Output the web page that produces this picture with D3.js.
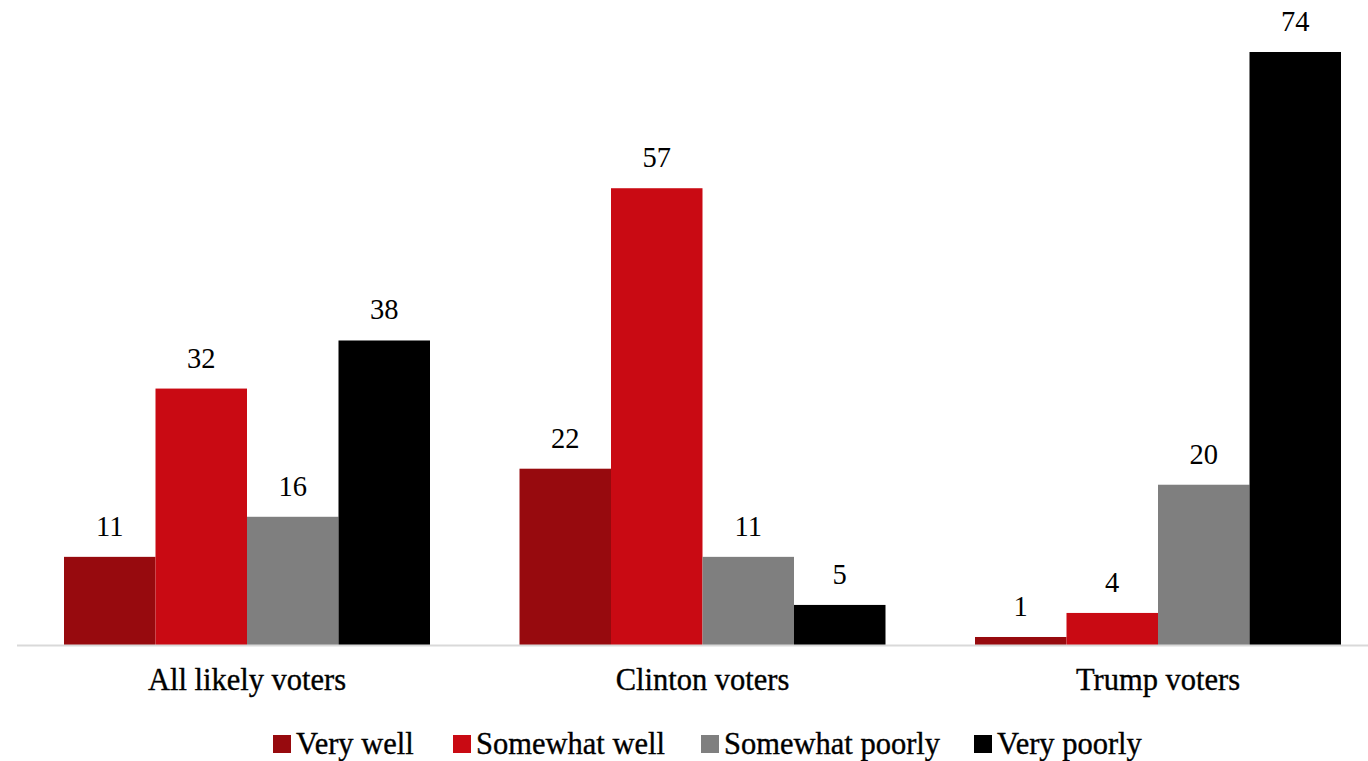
<!DOCTYPE html>
<html><head><meta charset="utf-8">
<script src="https://cdn.jsdelivr.net/npm/d3@7"></script>
<style>html,body{margin:0;padding:0;background:#fff;}svg{display:block;}</style>
</head><body>
<svg id="chart" width="1368" height="761"></svg>
<script>
const categories = ["All likely voters", "Clinton voters", "Trump voters"];
const seriesNames = ["Very well", "Somewhat well", "Somewhat poorly", "Very poorly"];
const veryWell = [11, 22, 1];
const somewhatWell = [32, 57, 4];
const somewhatPoorly = [16, 11, 20];
const veryPoorly = [38, 5, 74];
const colors = ["#970a0e", "#c90a13", "#7f7f7f", "#000000"];

const seriesValues = [veryWell, somewhatWell, somewhatPoorly, veryPoorly];
const data = categories.map((c, i) => ({cat: c, vals: seriesNames.map((s, j) => ({s, v: seriesValues[j][i], j}))}));

const svg = d3.select("#chart");
const font = "'Liberation Serif', 'Times New Roman', serif";

const x0 = d3.scaleBand().domain(categories).range([19.25, 1385.75]).paddingInner(0.1965).paddingOuter(0.09825);
const x1 = d3.scaleBand().domain(seriesNames).range([0, x0.bandwidth()]).padding(0);
const y = d3.scaleLinear().domain([0, 74]).range([645, 52]);

const g = svg.append("g");
const groups = g.selectAll("g.grp").data(data).enter().append("g")
  .attr("transform", d => `translate(${x0(d.cat)},0)`);

groups.selectAll("rect").data(d => d.vals).enter().append("rect")
  .attr("x", d => x1(d.s))
  .attr("y", d => y(d.v))
  .attr("width", x1.bandwidth())
  .attr("height", d => y(0) - y(d.v))
  .attr("fill", d => colors[d.j]);

groups.selectAll("text.val").data(d => d.vals).enter().append("text")
  .attr("class", "val")
  .attr("x", d => x1(d.s) + x1.bandwidth() / 2)
  .attr("y", d => y(d.v) - 21)
  .attr("text-anchor", "middle")
  .attr("font-family", font)
  .attr("font-size", 28.5)
  .attr("fill", "#000")
  .text(d => d.v);

// axis line
g.append("line").attr("x1", 17).attr("x2", 1368).attr("y1", y(0) + 0.5).attr("y2", y(0) + 0.5)
  .attr("stroke", "#d9d9d9").attr("stroke-width", 2);

// category labels
g.selectAll("text.cat").data(categories).enter().append("text")
  .attr("class", "cat")
  .attr("x", d => x0(d) + x0.bandwidth() / 2)
  .attr("y", 690)
  .attr("text-anchor", "middle")
  .attr("font-family", font)
  .attr("font-size", 30.5)
  .attr("fill", "#000")
  .attr("stroke", "#000").attr("stroke-width", 0.35)
  .text(d => d);

// legend
const legendX = [273, 453, 701, 974];
const leg = svg.append("g");
seriesNames.forEach((s, i) => {
  leg.append("rect").attr("x", legendX[i]).attr("y", 735).attr("width", 18).attr("height", 18).attr("fill", colors[i]);
  leg.append("text").attr("x", legendX[i] + 23).attr("y", 754)
    .attr("font-family", font).attr("font-size", 30.5).attr("fill", "#000")
    .attr("stroke", "#000").attr("stroke-width", 0.35).text(s);
});
</script>
</body></html>
